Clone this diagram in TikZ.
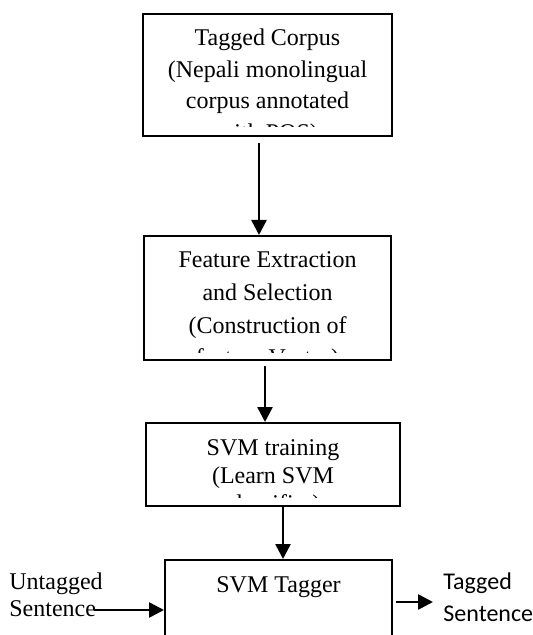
\documentclass[tikz,border=0pt]{standalone}
\usepackage{fontspec}
\setmainfont{Liberation Serif}
\newfontfamily\calibri{Carlito}
\usetikzlibrary{arrows.meta}

% text of a stage box, cut off at the bottom of the box
\newcommand\boxlines[3][3pt]{%
  \clip ([yshift=#1]path picture bounding box.south west) rectangle (path picture bounding box.north east);
  \foreach \ln [count=\i] in {#3}
    \node[boxtext,yshift={-16-(\i-1)*#2}] at (path picture bounding box.north) {\ln};}

\tikzset{
  stage/.style 2 args={draw,line width=1pt,inner sep=0pt,minimum width=#1,minimum height=#2},
  boxtext/.style={font=\fontsize{12}{14}\selectfont,inner sep=0pt,anchor=base},
  flow/.style={-{Triangle[length=7.5pt,width=7.5pt]},line width=1.3pt},
}

\begin{document}
\begin{tikzpicture}[x=0.5pt,y=-0.5pt]
\clip (0,0) rectangle (533,635);
\node[stage={124.5pt}{61pt},path picture={\boxlines[4.5pt]{15.75}{{Tagged Corpus},{(Nepali monolingual},{corpus annotated},{with POS)}}}] (corpus) at (267.5,75) {};
\node[stage={123.5pt}{62pt},path picture={\boxlines[4pt]{16.25}{{Feature Extraction},{and Selection},{(Construction of},{feature Vector)}}}] (features) at (267.5,298) {};
\node[stage={127pt}{41.5pt},path picture={\boxlines[4.5pt]{14}{{SVM training},{(Learn SVM},{classifier)}}}] (training) at (273,464.5) {};
\node[stage={113.5pt}{50pt},path picture={\boxlines{16}{{SVM Tagger}}}] (tagger) at (278.5,610) {};
% input and output
\node[font=\fontsize{12}{13.5}\selectfont,align=left,inner sep=0pt,anchor=base west] (untagged) at (9,616) {Untagged\\Sentence};
\node[font=\calibri\fontsize{12}{16}\selectfont,align=left,inner sep=0pt,anchor=base west] (tagged) at (443,621) {Tagged\\Sentence};
\coordinate (src) at (94,610);
\coordinate (dst) at (433,602);
\draw[flow] ([xshift=-4.25pt,yshift=-3pt]corpus.south) -- ([xshift=-4.25pt]features.north);
\draw[flow] ([xshift=-1.25pt,yshift=-2.5pt]features.south) -- ([xshift=-4pt]training.north);
\draw[flow] ([xshift=5pt,yshift=1pt]training.south) -- ([xshift=2.25pt]tagger.north);
\draw[flow] (src) -- (tagger.west);
\draw[flow] ([xshift=1.5pt,yshift=4pt]tagger.east) -- (dst);
\end{tikzpicture}
\end{document}
